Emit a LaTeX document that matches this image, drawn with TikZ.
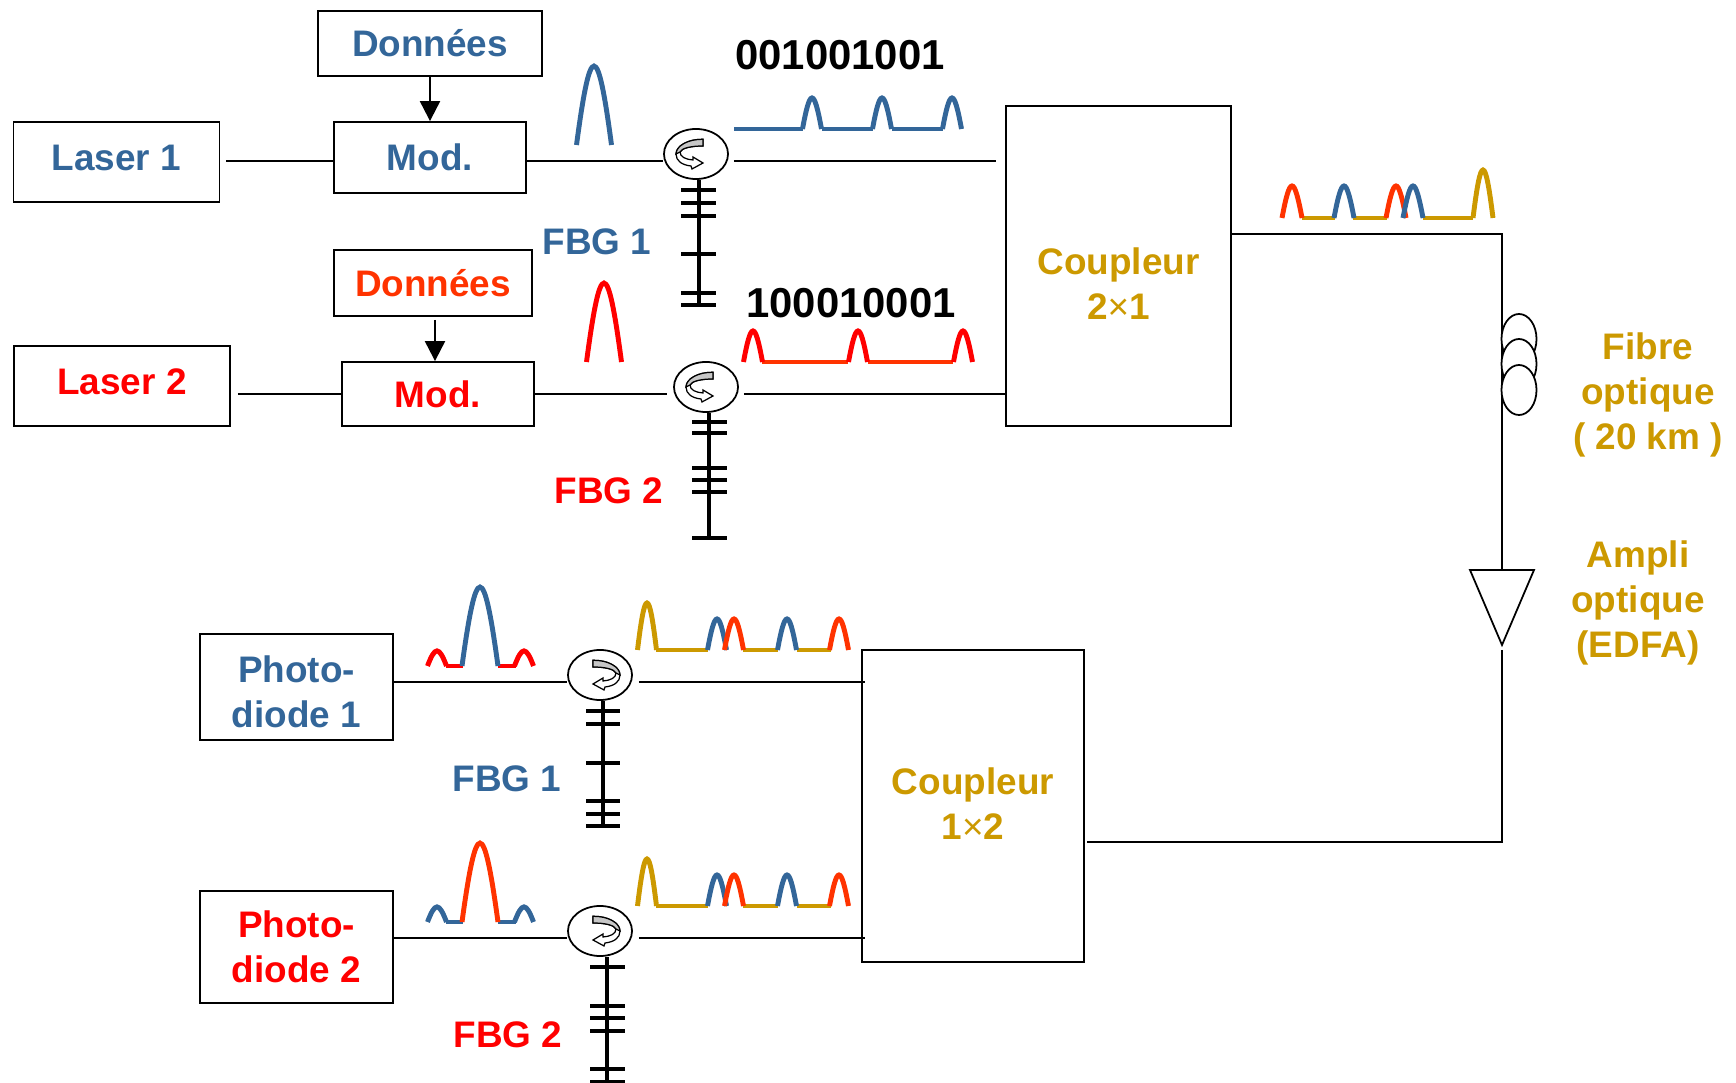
\documentclass[tikz,border=0pt]{standalone}
\usepackage{fontspec}
\setmainfont{Liberation Sans}
\usepackage{xcolor}
\usepackage{tikz}
\usetikzlibrary{shapes.geometric, arrows.meta, calc}
\definecolor{myblue}{HTML}{336699}
\definecolor{myred}{HTML}{FF0000}
\definecolor{myorange}{HTML}{FF3300}
\definecolor{mygold}{HTML}{CC9900}
\tikzstyle{labeltext} = [font=\bfseries\fontsize{10.5}{12.8}\selectfont, align=center, inner sep=0pt]
\tikzstyle{seqtext} = [font=\bfseries\fontsize{11.9}{14}\selectfont, inner sep=0pt]
\tikzstyle{blockbox} = [draw=black, line width=0.5pt, rectangle, inner sep=0pt, labeltext]
\tikzstyle{circulator} = [draw=black, line width=0.5pt, ellipse, inner sep=0pt, minimum width=0.64cm, minimum height=0.5cm]
\tikzstyle{coil} = [draw=black, fill=white, line width=0.5pt, ellipse, inner sep=0pt, minimum width=0.35cm, minimum height=0.5cm]
\tikzstyle{wire} = [line width=0.5pt, black]
\tikzstyle{dataarrow} = [line width=0.6pt, black, -{Triangle[length=2mm,width=2mm]}]
\tikzstyle{grating} = [line width=1.05pt, black]
\tikzstyle{pulseline} = [line width=1.4pt]
\tikzset{swirl/.pic={
\draw[line width=0.35pt, fill=white] (7,-14.7) .. controls (-8,-15) and (-20,-8) .. (-20,0) .. controls (-20,7) and (-14,11) .. (-5,12) -- (-4,15) -- (7,9) -- (-3,3) -- (-3,6) .. controls (-10,5.5) and (-16,3) .. (-16,-2) .. controls (-14,-6) and (-5,-8) .. (7,-8) -- cycle;
\draw[line width=0.35pt, fill=black!22] (7,-14.7) .. controls (-8,-15) and (-20,-8) .. (-20,0) -- (-16,-2) .. controls (-14,-6) and (-5,-8) .. (7,-8) -- cycle;
}}
\newcommand{\pulse}[5]{\draw[pulseline,#1] ({#2-0.5*#4},#3) .. controls ({#2-0.1*#4},{#3-1.33*#5+2.5}) and ({#2+0.1*#4},{#3-1.33*#5+2.5}) .. ({#2+0.5*#4},#3);}
\begin{document}
\begin{tikzpicture}[x=0.01cm,y=-0.01cm,>=Stealth]
\useasboundingbox (0,0) rectangle (1736,1083);

\coordinate (sig1) at (0,161);
\coordinate (sig2) at (0,394);
\coordinate (sig3) at (0,682);
\coordinate (sig4) at (0,938);
\coordinate (sigout) at (0,234);
\coordinate (sigin) at (0,842);
\coordinate (arrow2) at (435,0);
\coordinate (ampleft) at (1470,570);
\coordinate (ampright) at (1534,570);
\coordinate (amptop) at (1502,570);
\coordinate (amptip) at (1502,645);
\coordinate (ampout) at (1502,650);
\coordinate (fbg1end) at (699,305);
\coordinate (fbg2end) at (709,538);
\coordinate (fbg3end) at (603,826);
\coordinate (fbg4end) at (607,1083);

\node[blockbox, text=myblue, minimum width=2.24cm, minimum height=0.65cm] (data1) at (430,43.5) {\raisebox{-0.6pt}{Données}};
\node[blockbox, text=myblue, minimum width=2.06cm, minimum height=0.8cm] (laser1) at (116.5,162) {\raisebox{2.3pt}{Laser 1}};
\node[blockbox, text=myblue, minimum width=1.92cm, minimum height=0.71cm] (mod1) at (430,157.5) {\raisebox{0.3pt}{Mod.}};
\node[blockbox, text=myorange, minimum width=1.98cm, minimum height=0.66cm] (data2) at (433,283) {\raisebox{-0.6pt}{Données}};
\node[blockbox, text=myred, minimum width=2.16cm, minimum height=0.8cm] (laser2) at (122,386) {\raisebox{2.3pt}{Laser 2}};
\node[blockbox, text=myred, minimum width=1.92cm, minimum height=0.64cm] (mod2) at (438,394) {\raisebox{-0.3pt}{Mod.}};
\node[blockbox, text=mygold, minimum width=2.25cm, minimum height=3.2cm] (coupA) at (1118.5,266) {\rule{0pt}{17.7pt}Coupleur\\2{\mdseries ×}1};
\node[blockbox, text=mygold, minimum width=2.22cm, minimum height=3.12cm] (coupB) at (973,806) {Coupleur\\\rule[-1.2pt]{0pt}{1.2pt}1{\mdseries ×}2};
\node[blockbox, text=myblue, minimum width=1.93cm, minimum height=1.06cm] (photo1) at (296.5,687) {\rule{0pt}{10.1pt}Photo-\\diode 1};
\node[blockbox, text=myred, minimum width=1.93cm, minimum height=1.12cm] (photo2) at (296.5,947) {Photo-\\diode 2};

\node[circulator] (circ1) at (696,154) {};
\node[circulator] (circ2) at (706,387) {};
\node[circulator] (circ3) at (600,675) {};
\node[circulator] (circ4) at (600,931) {};
\pic at (circ1) {swirl};
\pic at (circ2) {swirl};
\pic[xscale=-1] at (circ3) {swirl};
\pic[xscale=-1] at (circ4) {swirl};

\draw[dataarrow] (data1.south) -- (mod1.north);
\draw[dataarrow, shorten <=0.03cm] (arrow2 |- data2.south) -- (arrow2 |- mod2.north);

\draw[wire, shorten <=0.06cm] (laser1.east |- sig1) -- (mod1.west |- sig1);
\draw[wire] (mod1.east |- sig1) -- (circ1.west |- sig1);
\draw[wire, shorten <=0.05cm, shorten >=0.09cm] (circ1.east |- sig1) -- (coupA.west |- sig1);
\draw[wire, shorten <=0.07cm] (laser2.east |- sig2) -- (mod2.west |- sig2);
\draw[wire, shorten >=0.06cm] (mod2.east |- sig2) -- (circ2.west |- sig2);
\draw[wire, shorten <=0.05cm] (circ2.east |- sig2) -- (coupA.west |- sig2);
\draw[wire] (photo1.east |- sig3) -- (circ3.west |- sig3);
\draw[wire, shorten <=0.06cm, shorten >=-0.04cm] (circ3.east |- sig3) -- (coupB.west |- sig3);
\draw[wire] (photo2.east |- sig4) -- (circ4.west |- sig4);
\draw[wire, shorten <=0.06cm, shorten >=-0.04cm] (circ4.east |- sig4) -- (coupB.west |- sig4);
\draw[wire] (coupA.east |- sigout) -| (amptop);
\draw[wire, shorten >=0.02cm] (ampout) |- (coupB.east |- sigin);
\draw[wire] (ampleft) -- (ampright) -- (amptip) -- cycle;

\node[coil] (coil1) at (1519,339) {};
\node[coil] (coil2) at (1519,364) {};
\node[coil] (coil3) at (1519,390) {};

\draw[grating] (circ1.south -| fbg1end) -- (fbg1end);
\draw[grating] (681,190) -- (716,190) (681,203) -- (716,203) (681,216) -- (716,216) (681,254) -- (716,254) (681,293) -- (716,293) (681,305) -- (716,305);
\draw[grating] (circ2.south -| fbg2end) -- (fbg2end);
\draw[grating] (692,422) -- (727,422) (692,433) -- (727,433) (692,468) -- (727,468) (692,480) -- (727,480) (692,492) -- (727,492) (692,538) -- (727,538);
\draw[grating] (circ3.south -| fbg3end) -- (fbg3end);
\draw[grating] (586,711) -- (620,711) (586,724) -- (620,724) (586,763) -- (620,763) (586,801) -- (620,801) (586,814) -- (620,814) (586,826) -- (620,826);
\draw[grating] (circ4.south -| fbg4end) -- (fbg4end);
\draw[grating] (590,967) -- (625,967) (590,1006) -- (625,1006) (590,1018) -- (625,1018) (590,1031) -- (625,1031) (590,1069) -- (625,1069) (590,1082) -- (625,1082);

\node[labeltext, text=myblue] (fbg1) at (597,242) {FBG 1};
\node[labeltext, text=myred] (fbg2) at (609,491) {FBG 2};
\node[labeltext, text=myblue] (fbg3) at (507,779) {FBG 1};
\node[labeltext, text=myred] (fbg4) at (508,1035) {FBG 2};
\node[seqtext] (seq1) at (840,55) {001001001};
\node[seqtext] (seq2) at (851,303) {100010001};
\node[labeltext, text=mygold] (fibre) at (1648,395) {Fibre\\optique\\( 20 km )};
\node[labeltext, text=mygold] (ampli) at (1638,603) {Ampli\\optique\\(EDFA)};

\pulse{myblue}{594}{145}{35}{81}
\draw[pulseline,myblue] (734,129) -- (803,129) (822,129) -- (873,129) (892,129) -- (943,129);
\pulse{myblue}{812}{129}{19}{33}
\pulse{myblue}{882}{129}{19}{33}
\pulse{myblue}{952}{129}{19}{33}

\pulse{myred}{604}{362}{35}{81}
\draw[pulseline,myorange] (762,362) -- (848,362) (868,362) -- (953,362);
\pulse{myred}{753}{362}{19}{33}
\pulse{myred}{858}{362}{19}{33}
\pulse{myred}{963}{362}{19}{33}

\draw[pulseline,mygold] (1302,218) -- (1335,218) (1353,218) -- (1387,218) (1423,218) -- (1473,218);
\pulse{myorange}{1292}{218}{20}{34}
\pulse{myblue}{1344}{218}{20}{34}
\pulse{myorange}{1396}{218}{20}{34}
\pulse{myblue}{1413}{218}{20}{34}
\pulse{mygold}{1483}{218}{20}{50}

\draw[pulseline,myred] (446,666) -- (463,666) (498,666) -- (516,666);
\pulse{myred}{437}{666}{19}{17}
\pulse{myblue}{480}{666}{36}{81}
\pulse{myred}{524}{666}{19}{17}

\draw[pulseline,mygold] (656,650) -- (708,650) (743,650) -- (778,650) (797,650) -- (831,650);
\pulse{mygold}{647}{650}{19}{49}
\pulse{myblue}{717}{650}{19}{33}
\pulse{myorange}{734}{650}{19}{33}
\pulse{myblue}{787}{650}{19}{33}
\pulse{myorange}{839}{650}{19}{33}

\draw[pulseline,myblue] (446,922) -- (463,922) (498,922) -- (516,922);
\pulse{myblue}{437}{922}{19}{17}
\pulse{myorange}{480}{922}{36}{81}
\pulse{myblue}{524}{922}{19}{17}

\draw[pulseline,mygold] (656,906) -- (708,906) (743,906) -- (778,906) (797,906) -- (831,906);
\pulse{mygold}{647}{906}{19}{49}
\pulse{myblue}{717}{906}{19}{33}
\pulse{myorange}{734}{906}{19}{33}
\pulse{myblue}{787}{906}{19}{33}
\pulse{myorange}{839}{906}{19}{33}
\end{tikzpicture}
\end{document}
